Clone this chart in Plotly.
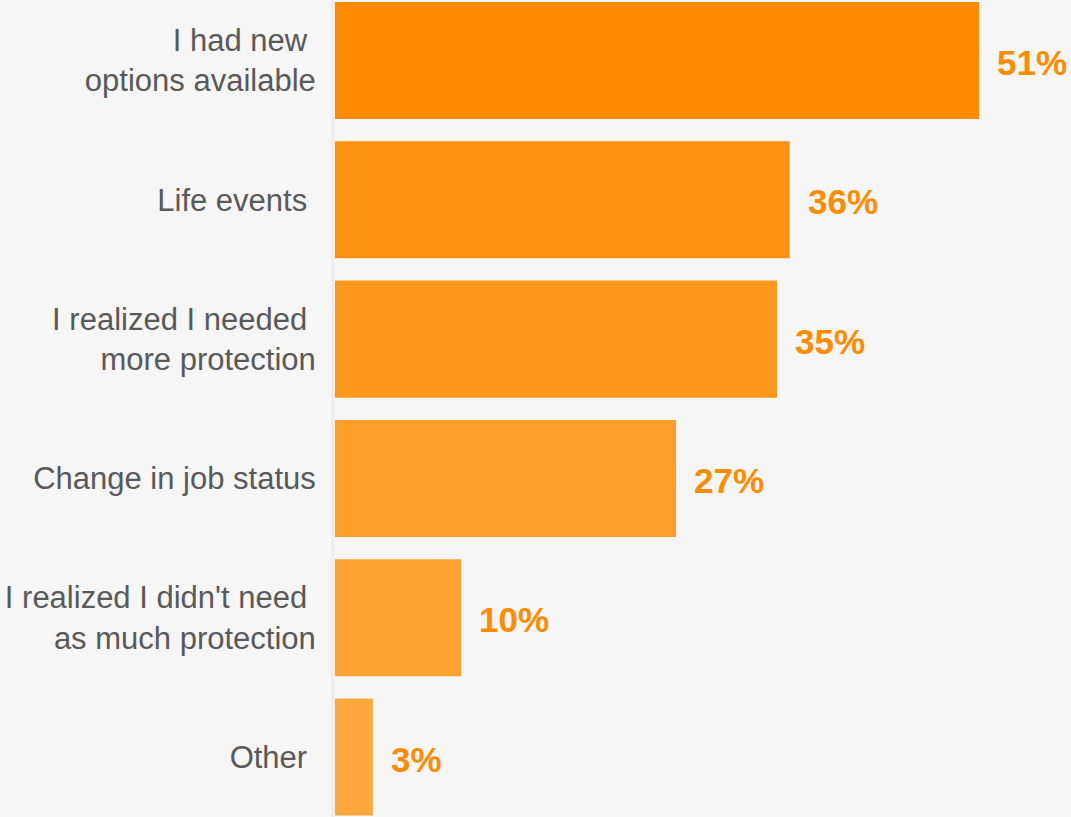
import plotly.graph_objects as go

categories = [
    "I had new <br>options available",
    "Life events ",
    "I realized I needed <br>more protection",
    "Change in job status",
    "I realized I didn't need <br>as much protection",
    "Other ",
]
values = [51, 36, 35, 27, 10, 3]
value_labels = ["51%", "36%", "35%", "27%", "10%", "3%"]
bar_colors = ["#FF8A00", "#FE9311", "#FE991D", "#FD9E28", "#FDA332", "#FDA73D"]

fig = go.Figure()
fig.add_trace(go.Bar(
    x=values,
    y=categories,
    orientation="h",
    marker=dict(color=bar_colors, line=dict(width=0)),
    width=0.84,
    hoverinfo="skip",
))

for v, c, t in zip(values, categories, value_labels):
    fig.add_annotation(
        x=v, y=c, text="<b>" + t + "</b>", showarrow=False,
        xanchor="left", yanchor="middle", xshift=16, yshift=-2,
        font=dict(family="Liberation Sans, Arial, sans-serif", size=35, color="#FF8C00"),
    )

fig.update_layout(
    width=1071,
    height=817,
    margin=dict(l=335, r=0, t=0, b=0),
    paper_bgcolor="#F6F6F6",
    plot_bgcolor="#F6F6F6",
    showlegend=False,
    xaxis=dict(
        range=[0, 736 / 12.63],
        showgrid=False, zeroline=False, showticklabels=False, showline=False,
        fixedrange=True,
    ),
    yaxis=dict(
        type="category",
        categoryorder="array",
        categoryarray=categories,
        range=[5.43, -0.434],
        showgrid=False, zeroline=False,
        showline=True, linecolor="#EEEEEE", linewidth=4,
        ticks="outside", ticklen=9, tickcolor="rgba(0,0,0,0)",
        tickfont=dict(family="Liberation Sans, Arial, sans-serif", size=31, color="#595959"),
        fixedrange=True,
    ),
)

fig.write_html("out.html")
